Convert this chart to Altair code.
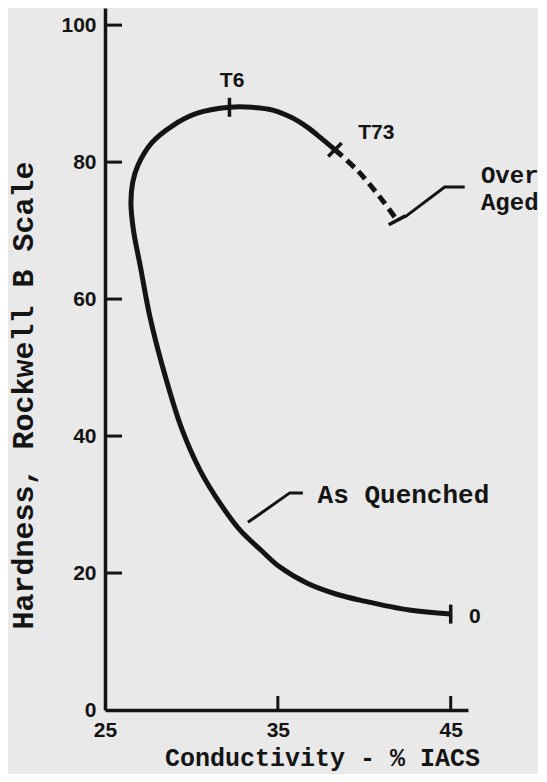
import altair as alt
import pandas as pd

# ---- data ----
# solid curve: As Quenched (0) -> T6 -> T73
solid_cond = [45.0, 42.6, 40.0, 38.4, 36.7, 35.1, 34.0, 32.8, 31.65, 30.5, 29.45,
              28.4, 27.6, 27.05, 26.65, 26.5, 26.6, 26.9, 27.7, 28.9, 30.3, 32.2, 33.5,
              34.7, 35.8, 36.7, 37.5, 38.3]
solid_hard = [14.0, 14.6, 15.9, 16.9, 18.5, 20.9, 23.4, 26.3, 30.2, 35.0, 41.0,
              49.5, 57.4, 64.7, 70.0, 74.0, 77.0, 79.5, 82.8, 85.3, 87.1, 88.0, 88.0,
              87.6, 86.5, 85.1, 83.5, 81.8]
# dashed curve: T73 -> Over Aged
dash_cond = [38.3, 39.6, 40.9, 41.9]
dash_hard = [81.8, 78.8, 74.9, 71.5]

# temper markers on the curve
marker_cond = [45.0, 32.2, 38.3, 41.9]
marker_hard = [14.0, 88.0, 81.8, 71.5]
marker_angle = [90, 90, 135, 152]

# labels
label_text = ["T6", "T73", "0"]
label_cond = [32.35, 40.7, 46.4]
label_hard = [91.8, 84.2, 13.6]

note_text = ["As Quenched", "Over", "Aged"]
note_cond = [37.3, 46.75, 46.75]
note_hard = [31.4, 78.0, 74.1]
note_size = [26, 24, 24]

# leader lines of the notes
lead_group = ["q", "q", "q", "o", "o", "o"]
lead_cond = [36.45, 35.69, 33.27, 45.81, 44.65, 42.34]
lead_hard = [31.7, 31.7, 27.4, 76.35, 76.35, 71.97]

x_ticks = [35, 45]
y_ticks = [20, 40, 60, 80, 100]
x_labels = [25, 35, 45]
y_labels = [0, 20, 40, 60, 80, 100]

INK = "#141414"
MONO = "Liberation Mono"
SANS = "Liberation Sans"

solid = pd.DataFrame({"c": solid_cond, "h": solid_hard, "i": range(len(solid_cond))})
dashed = pd.DataFrame({"c": dash_cond, "h": dash_hard, "i": range(len(dash_cond))})
markers = pd.DataFrame({"c": marker_cond, "h": marker_hard, "a": marker_angle})
labels = pd.DataFrame({"c": label_cond, "h": label_hard, "t": label_text})
notes = pd.DataFrame({"c": note_cond, "h": note_hard, "t": note_text, "s": note_size})
leads = pd.DataFrame({"g": lead_group, "c": lead_cond, "h": lead_hard,
                      "i": range(len(lead_cond))})
xt = pd.DataFrame({"c": x_ticks})
yt = pd.DataFrame({"h": y_ticks})

xs = alt.Scale(domain=[25, 46], nice=False, zero=False)
ys = alt.Scale(domain=[0, 102.5], nice=False, zero=False)

X = alt.X("c:Q", scale=xs, axis=alt.Axis(
    values=x_labels, title="Conductivity - % IACS", grid=False, tickSize=0,
    domainWidth=3.5, domainColor=INK, labelFont=SANS, labelFontWeight="bold",
    labelFontSize=21, labelColor=INK, labelPadding=9, labelFlush=False,
    titleFont=MONO, titleFontWeight="bold", titleFontSize=25, titleColor=INK,
    titleX=217, titleY=47, titleBaseline="middle", titleAlign="center"))
Y = alt.Y("h:Q", scale=ys, axis=alt.Axis(
    values=y_labels, title="Hardness, Rockwell B Scale", grid=False, tickSize=0,
    domainWidth=3.5, domainColor=INK, labelFont=SANS, labelFontWeight="bold",
    labelFontSize=21, labelColor=INK, labelPadding=9, labelFlush=False,
    titleFont=MONO, titleFontWeight="bold", titleFontSize=30, titleColor=INK,
    titleX=-82, titleY=387, titleBaseline="middle", titleAlign="center",
    titleAngle=270))

base_solid = alt.Chart(solid).mark_line(
    color=INK, strokeWidth=5, interpolate="catmull-rom", strokeCap="butt"
).encode(x=X, y=Y, order="i:Q")

base_dash = alt.Chart(dashed).mark_line(
    color=INK, strokeWidth=5, interpolate="catmull-rom", strokeDash=[10, 6],
    strokeCap="butt"
).encode(x=alt.X("c:Q", scale=xs), y=alt.Y("h:Q", scale=ys), order="i:Q")

mk = alt.Chart(markers).mark_point(
    shape="stroke", size=361, strokeWidth=3.5, color=INK, filled=False, opacity=1
).encode(x=alt.X("c:Q", scale=xs), y=alt.Y("h:Q", scale=ys),
         angle=alt.Angle("a:Q", scale=None))

lab = alt.Chart(labels).mark_text(
    font=SANS, fontWeight="bold", fontSize=21, color=INK, align="center",
    baseline="middle"
).encode(x=alt.X("c:Q", scale=xs), y=alt.Y("h:Q", scale=ys), text="t:N")

nts = alt.Chart(notes).mark_text(
    font=MONO, fontWeight="bold", color=INK, align="left", baseline="middle"
).encode(x=alt.X("c:Q", scale=xs), y=alt.Y("h:Q", scale=ys), text="t:N",
         size=alt.Size("s:Q", scale=None, legend=None))

ld = alt.Chart(leads).mark_line(color=INK, strokeWidth=3).encode(
    x=alt.X("c:Q", scale=xs), y=alt.Y("h:Q", scale=ys), detail="g:N", order="i:Q")

ytk = alt.Chart(yt).mark_rule(color=INK, strokeWidth=3).encode(
    y=alt.Y("h:Q", scale=ys), x=alt.value(0), x2=alt.value(17))
xtk = alt.Chart(xt).mark_rule(color=INK, strokeWidth=3).encode(
    x=alt.X("c:Q", scale=xs), y=alt.value(702), y2=alt.value(688))

chart = alt.layer(base_solid, base_dash, mk, lab, nts, ld, ytk, xtk).properties(
    width=363, height=702,
    autosize=alt.AutoSizeParams(type="none"),
    padding={"left": 97, "top": 0, "right": 70, "bottom": 64},
    background="#e9e9e9",
).configure_view(stroke=None)

chart.save("out.html", embed_options={"renderer": "svg", "actions": False})
